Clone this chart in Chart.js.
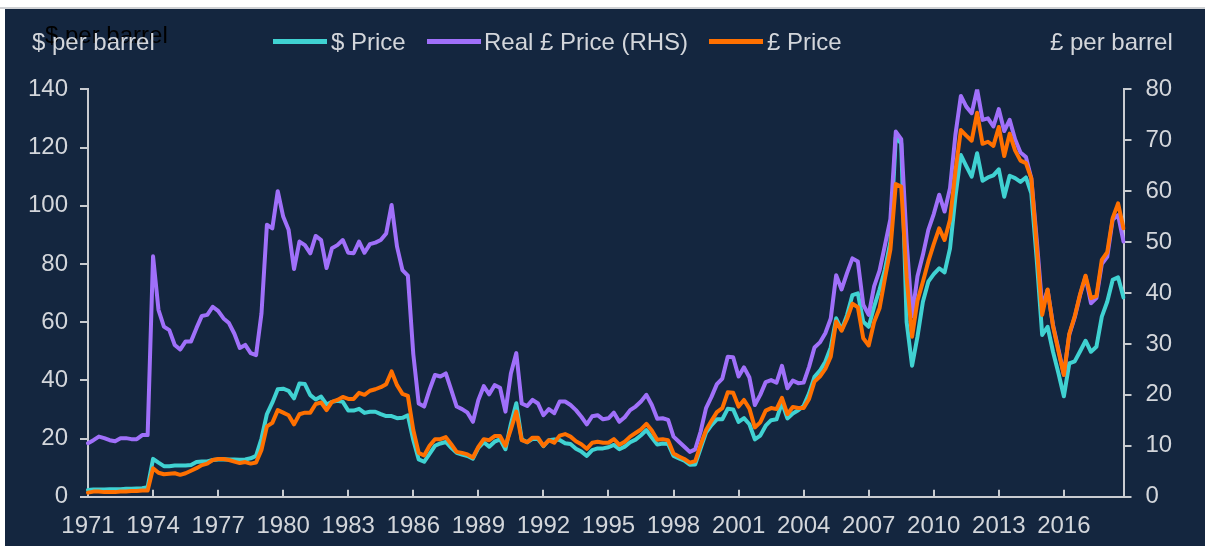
<!DOCTYPE html>
<html>
<head>
<meta charset="utf-8">
<script src="https://cdn.jsdelivr.net/npm/chart.js@4.4.1/dist/chart.umd.min.js"></script>
<style>
  html, body { margin: 0; padding: 0; background: #ffffff; }
  body { width: 1205px; height: 546px; position: relative; overflow: hidden; font-family: "Liberation Sans", Arial, sans-serif; }
  #topline { position: absolute; left: 0; right: 0; top: 7px; height: 2px; background: #cfd1d4; }
  #panel { position: absolute; left: 5px; right: 0; top: 9px; bottom: 0; background: #14263f; }
  #chart { position: absolute; left: 0; top: 0; }
  .txt { position: absolute; font-size: 24px; line-height: 24px; color: #d3d6db; white-space: nowrap; }
  .ghost { color: #000000; }
  .swatch { position: absolute; width: 54px; height: 5px; top: 39px; }
</style>
</head>
<body>
<div id="topline"></div>
<div id="panel"></div>
<canvas id="chart" width="1205" height="546"></canvas>

<div class="txt ghost" style="left:45px; top:23px;">$ per barrel</div>
<div class="txt" style="left:32px; top:30px;">$ per barrel</div>
<div class="txt" style="left:1050px; top:30px;">£ per barrel</div>

<div class="swatch" style="left:273px; background:#40d2d2;"></div>
<div class="txt" style="left:331px; top:30px;">$ Price</div>
<div class="swatch" style="left:427px; background:#a070fa;"></div>
<div class="txt" style="left:484px; top:30px;">Real £ Price (RHS)</div>
<div class="swatch" style="left:709px; background:#ff7000;"></div>
<div class="txt" style="left:767px; top:30px;">£ Price</div>

<script>
// tick labels shown on the x axis (one every 3 years)
const tickYears = ['1971', '1974', '1977', '1980', '1983', '1986', '1989', '1992',
  '1995', '1998', '2001', '2004', '2007', '2010', '2013', '2016'];

// quarterly categories 1971 Q1 .. 2018 Q4
const quarters = [];
for (let y = 1971; y <= 2018; y++) {
  for (let q = 1; q <= 4; q++) quarters.push(y + ' Q' + q);
}

// $ per barrel (left axis)
const dollarPrice = [
  2.3, 2.5, 2.5, 2.5, 2.6, 2.6, 2.6, 2.7, 2.7, 2.8, 2.9, 3.3,
  13.0, 11.7, 10.5, 10.5, 10.7, 10.7, 10.7, 10.9, 11.9, 12.1, 12.1, 12.6,
  12.8, 12.9, 12.8, 12.8, 12.7, 12.8, 13.2, 14.0, 20.0, 28.4, 32.3, 36.9,
  37.1, 36.4, 33.8, 38.9, 38.7, 34.9, 33.4, 34.4, 31.7, 32.6, 33.0, 32.6,
  29.6, 29.6, 30.2, 28.8, 29.2, 29.2, 28.4, 27.7, 27.7, 27.0, 27.1, 28.0,
  19.5, 12.8, 12.0, 14.7, 17.5, 18.3, 18.8, 16.8, 15.1, 14.5, 14.0, 13.1,
  16.8, 18.7, 17.2, 18.9, 19.7, 16.3, 25.0, 32.1, 19.7, 18.7, 19.9, 19.8,
  17.4, 19.4, 19.7, 19.5, 18.4, 18.1, 16.5, 15.5, 14.0, 16.0, 16.6, 16.6,
  17.0, 17.8, 16.3, 17.2, 18.7, 19.6, 21.1, 22.9, 20.3, 17.9, 18.3, 18.1,
  14.0, 13.2, 12.4, 11.0, 11.1, 16.6, 22.0, 24.6, 26.6, 26.6, 30.2, 30.0,
  25.7, 27.0, 24.9, 19.7, 21.0, 24.4, 26.3, 26.6, 32.3, 26.9, 28.6, 29.7,
  31.2, 35.5, 41.2, 43.3, 46.4, 51.3, 61.3, 57.3, 62.4, 69.3, 69.9, 60.1,
  58.4, 65.3, 71.2, 78.1, 87.6, 123.5, 121.4, 60.0, 45.0, 55.0, 67.0, 73.9,
  76.5, 78.5, 77.1, 85.3, 103.1, 117.4, 113.6, 110.0, 118.0, 108.6, 109.7, 110.4,
  112.5, 103.1, 110.3, 109.5, 108.2, 109.7, 104.2, 81.3, 55.6, 58.4, 49.8, 42.4,
  34.5, 45.8, 46.5, 50.0, 53.6, 49.8, 51.5, 61.9, 67.0, 74.5, 75.4, 68.5
];

// real £ per barrel (right axis)
const realPoundPrice = [
  10.5, 11.1, 11.8, 11.5, 11.1, 10.9, 11.5, 11.5, 11.3, 11.3, 12.1, 12.1,
  47.2, 36.7, 33.4, 32.7, 29.8, 28.9, 30.5, 30.5, 33.1, 35.5, 35.7, 37.3,
  36.5, 35.0, 34.1, 32.0, 29.2, 29.8, 28.2, 27.8, 36.0, 53.4, 52.7, 60.0,
  55.0, 52.4, 44.7, 50.1, 49.4, 47.8, 51.2, 50.4, 44.9, 48.8, 49.4, 50.4,
  47.9, 47.8, 50.1, 47.9, 49.6, 49.9, 50.4, 51.7, 57.3, 49.1, 44.5, 43.4,
  28.0, 18.3, 17.7, 21.0, 23.9, 23.6, 24.2, 21.0, 17.7, 17.2, 16.5, 14.7,
  19.0, 21.7, 20.1, 21.9, 21.4, 16.7, 24.2, 28.2, 18.3, 17.8, 19.0, 18.3,
  16.0, 17.2, 16.4, 18.7, 18.7, 18.0, 17.0, 15.7, 14.2, 15.8, 16.0, 15.2,
  15.4, 16.5, 14.7, 15.6, 17.0, 17.7, 18.7, 20.0, 18.0, 15.3, 15.4, 15.1,
  11.8, 10.8, 9.8, 8.8, 9.3, 12.8, 17.4, 19.6, 22.1, 23.2, 27.5, 27.4,
  23.6, 25.4, 23.4, 18.0, 20.0, 22.5, 22.9, 22.4, 25.7, 21.3, 22.8, 22.3,
  22.4, 25.5, 29.3, 30.3, 32.1, 35.0, 43.5, 40.7, 43.9, 46.8, 46.2, 37.7,
  35.7, 41.3, 44.4, 49.4, 54.5, 71.7, 70.2, 50.1, 35.4, 43.3, 47.5, 52.4,
  55.5, 59.3, 56.0, 60.6, 71.1, 78.7, 76.6, 75.3, 80.0, 74.0, 74.3, 72.7,
  76.1, 71.8, 74.0, 70.2, 67.6, 66.7, 62.5, 50.4, 37.3, 40.6, 33.7, 28.9,
  24.0, 31.8, 35.2, 39.6, 43.2, 38.0, 39.0, 45.7, 47.1, 54.4, 55.3, 50.1
];

// nominal £ per barrel (right axis)
const poundPrice = [
  0.8, 1.0, 1.0, 0.9, 0.9, 0.9, 1.0, 1.0, 1.1, 1.1, 1.2, 1.2,
  5.6, 4.7, 4.4, 4.5, 4.6, 4.3, 4.6, 5.1, 5.6, 6.2, 6.5, 7.2,
  7.4, 7.4, 7.2, 6.9, 6.6, 6.8, 6.5, 6.7, 9.2, 13.8, 14.5, 17.0,
  16.5, 16.0, 14.2, 16.2, 16.5, 16.5, 18.2, 18.5, 17.0, 18.6, 19.0, 19.6,
  19.2, 19.2, 20.4, 20.0, 20.8, 21.1, 21.5, 22.1, 24.6, 21.9, 20.2, 19.8,
  13.1, 8.6, 8.1, 10.0, 11.3, 11.3, 11.7, 10.3, 8.8, 8.6, 8.3, 7.7,
  9.8, 11.3, 11.1, 11.9, 11.9, 10.0, 13.2, 16.7, 11.1, 10.7, 11.6, 11.6,
  10.0, 11.1, 10.6, 12.0, 12.3, 11.8, 10.9, 10.3, 9.4, 10.6, 10.8, 10.6,
  10.6, 11.3, 10.2, 10.8, 11.8, 12.5, 13.2, 14.3, 13.0, 11.2, 11.3, 11.1,
  8.5, 7.9, 7.4, 6.7, 7.0, 10.2, 13.1, 14.9, 16.6, 17.4, 20.5, 20.4,
  17.7, 19.0, 17.3, 13.6, 14.6, 16.9, 17.4, 17.2, 19.4, 16.2, 17.6, 17.4,
  17.4, 19.2, 22.6, 23.6, 25.1, 27.5, 34.4, 32.6, 34.9, 37.9, 37.2, 31.1,
  29.7, 34.3, 37.0, 42.9, 48.5, 61.4, 60.9, 43.0, 31.4, 38.5, 42.2, 46.2,
  49.6, 52.7, 50.4, 54.4, 63.9, 72.0, 70.9, 69.9, 75.4, 69.3, 69.7, 68.9,
  72.6, 66.9, 71.3, 68.0, 66.0, 65.5, 62.5, 49.1, 35.7, 40.7, 33.5, 28.6,
  23.9, 32.0, 35.4, 39.8, 43.4, 39.0, 39.4, 46.5, 48.0, 54.7, 57.6, 52.7
];

const axisColor = '#c9ccd1';
const labelColor = '#d3d6db';
const tickFont = { family: '"Liberation Sans", Arial, sans-serif', size: 24 };

// small upward tick marks on the x axis, every 12 quarters
const innerTicks = {
  id: 'innerTicks',
  beforeDatasetsDraw(chart) {
    const x = chart.scales.x;
    const ctx = chart.ctx;
    ctx.save();
    ctx.strokeStyle = axisColor;
    ctx.lineWidth = 2;
    for (let i = 12; i < quarters.length; i += 12) {
      const px = Math.round(x.getPixelForValue(i));
      ctx.beginPath();
      ctx.moveTo(px, x.top);
      ctx.lineTo(px, x.top - 7);
      ctx.stroke();
    }
    ctx.restore();
  }
};

const lineStyle = {
  borderWidth: 4,
  pointRadius: 0,
  tension: 0,
  borderJoinStyle: 'round',
  borderCapStyle: 'round',
  fill: false
};

new Chart(document.getElementById('chart'), {
  type: 'line',
  data: {
    labels: quarters,
    datasets: [
      Object.assign({ label: '$ Price', data: dollarPrice, borderColor: '#40d2d2', yAxisID: 'y', order: 2 }, lineStyle),
      Object.assign({ label: 'Real £ Price (RHS)', data: realPoundPrice, borderColor: '#a070fa', yAxisID: 'y2', order: 1 }, lineStyle),
      Object.assign({ label: '£ Price', data: poundPrice, borderColor: '#ff7000', yAxisID: 'y2', order: 0 }, lineStyle)
    ]
  },
  options: {
    responsive: false,
    animation: false,
    devicePixelRatio: 1,
    layout: { padding: { top: 89.3, left: 0, right: 0, bottom: 0 } },
    plugins: { legend: { display: false }, tooltip: { enabled: false } },
    scales: {
      x: {
        type: 'category',
        offset: false,
        grid: { display: false, drawTicks: false },
        border: { display: true, color: axisColor, width: 2 },
        ticks: {
          autoSkip: false,
          maxRotation: 0,
          minRotation: 0,
          padding: 15,
          color: labelColor,
          font: tickFont,
          callback: (value, index) => (index % 12 === 0 ? tickYears[index / 12] : '')
        },
        afterFit: (scale) => { scale.height = 49.3; }
      },
      y: {
        position: 'left',
        min: 0,
        max: 140,
        grid: { drawOnChartArea: false, drawTicks: true, tickLength: 8, color: axisColor, lineWidth: 2 },
        border: { display: true, color: axisColor, width: 2 },
        ticks: { stepSize: 20, padding: 12, color: labelColor, font: tickFont },
        afterFit: (scale) => { scale.width = 88; }
      },
      y2: {
        position: 'right',
        min: 0,
        max: 80,
        grid: { drawOnChartArea: false, drawTicks: true, tickLength: 8, color: axisColor, lineWidth: 2 },
        border: { display: true, color: axisColor, width: 2 },
        ticks: { stepSize: 10, padding: 14, color: labelColor, font: tickFont },
        afterFit: (scale) => { scale.width = 81.5; }
      }
    }
  },
  plugins: [innerTicks]
});
</script>
</body>
</html>
